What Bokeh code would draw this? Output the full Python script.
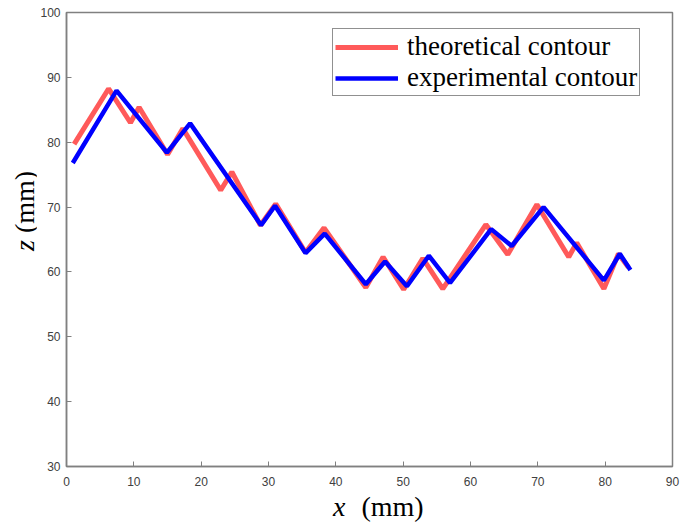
from bokeh.plotting import figure
from bokeh.models import Range1d, FixedTicker, Legend, LegendItem, Div
from bokeh.layouts import row, column
from bokeh.embed import file_html
from bokeh.resources import INLINE

# theoretical contour
theo_x = [1.13, 6.25, 9.5, 10.78, 15.01, 17.28, 22.9, 24.56, 28.8, 31.07, 35.5, 38.25, 44.45, 47.02, 50.07,
          52.92, 55.88, 62.28, 65.53, 69.86, 74.59, 75.77, 79.81, 81.97, 83.45]
theo_z = [79.7, 88.25, 83.0, 85.4, 78.1, 82.1, 72.6, 75.4, 67.2, 70.5, 63.0, 66.8, 57.6, 62.3, 57.3,
          62.1, 57.4, 67.3, 62.7, 70.4, 62.3, 64.5, 57.4, 62.8, 60.7]
# experimental contour
exp_x = [0.93, 7.43, 14.91, 18.36, 28.9, 30.97, 35.5, 38.35, 44.45, 47.31, 50.56, 53.81, 56.96, 63.07,
         66.12, 70.85, 79.81, 82.17, 83.75]
exp_z = [76.8, 87.95, 78.4, 82.9, 67.2, 70.2, 62.9, 65.9, 58.1, 61.6, 57.8, 62.5, 58.3, 66.6,
         64.0, 70.0, 58.7, 62.8, 60.3]

x_ticks = [0, 10, 20, 30, 40, 50, 60, 70, 80, 90]
z_ticks = [30, 40, 50, 60, 70, 80, 90, 100]
series_labels = ["theoretical contour", "experimental contour"]

p = figure(width=654, height=494, output_backend="svg", toolbar_location=None,
           x_range=Range1d(0, 90), y_range=Range1d(30, 100),
           min_border_left=30, min_border_right=18, min_border_top=12, min_border_bottom=28)
p.xgrid.visible = False
p.ygrid.visible = False
p.outline_line_color = "#808080"
p.outline_line_width = 1.5
p.background_fill_color = "white"
p.border_fill_color = "white"

for ax, ticks in ((p.xaxis[0], x_ticks), (p.yaxis[0], z_ticks)):
    ax.ticker = FixedTicker(ticks=ticks)
    ax.minor_tick_line_color = None
    ax.major_tick_in = 5
    ax.major_tick_out = 0
    ax.axis_line_color = "#808080"
    ax.axis_line_width = 1.5
    ax.major_tick_line_color = "#808080"
    ax.major_label_text_font = "Liberation Sans"
    ax.major_label_text_font_size = "12px"
    ax.major_label_text_color = "#404040"
p.xaxis.major_label_standoff = 10
p.yaxis.major_label_standoff = 6

r1 = p.line(theo_x, theo_z, line_color="#ff5a5a", line_width=5)
r2 = p.line(exp_x, exp_z, line_color="#0000ff", line_width=4.5)

legend = Legend(items=[LegendItem(label=series_labels[0], renderers=[r1]),
                       LegendItem(label=series_labels[1], renderers=[r2])],
                location=(266, 370))
legend.label_text_font = "Liberation Serif"
legend.label_text_font_size = "27px"
legend.label_text_line_height = 1.0
legend.label_text_color = "black"
legend.label_standoff = 9
legend.glyph_width = 63
legend.glyph_height = 26
legend.label_height = 26
legend.spacing = 0
legend.padding = 2
legend.margin = 0
legend.border_line_color = "#222222"
legend.border_line_width = 1.2
legend.background_fill_alpha = 1
p.add_layout(legend)

font_css = "font-family:'Liberation Serif';font-size:28px;line-height:28px;color:black;white-space:nowrap;"
ylab = Div(width=36, height=524, margin=0, styles={"overflow": "visible"},
           text=f'<div style="position:absolute;left:11px;top:251px;transform-origin:0 0;'
                f'transform:rotate(-90deg);{font_css}"><i>z</i> (mm)</div>')
xlab = Div(width=654, height=30, margin=0, styles={"overflow": "visible"},
           text=f'<div style="position:absolute;left:297px;top:-1px;{font_css}">'
                f'<i>x</i><span style="margin-left:16px">(mm)</span></div>')

layout = row(ylab, column(p, xlab, spacing=0), spacing=0)
open("out.html", "w").write(file_html(layout, INLINE))
